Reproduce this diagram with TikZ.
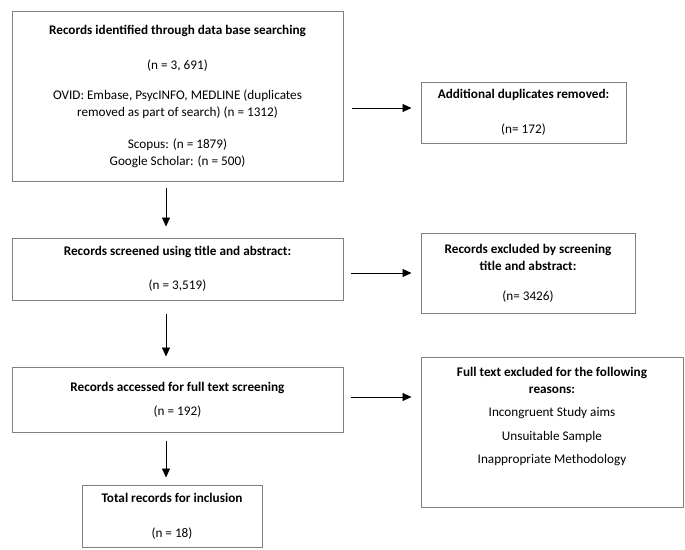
\documentclass[tikz,border=0pt]{standalone}
\usepackage{fontspec}
\setmainfont{Carlito}
\usetikzlibrary{arrows.meta}
\definecolor{boxgray}{gray}{0.5}
\begin{document}
\begin{tikzpicture}[x=1pt,y=-1pt,
  rec/.style={draw=boxgray,line width=1pt,shape=rectangle,align=center,inner sep=0pt,font=\fontsize{13.2}{17}\selectfont},
  arr/.style={-{Triangle[length=9pt,width=8pt]},line width=0.8pt}]
\useasboundingbox (0,0) rectangle (685,549);
\node[rec,minimum width=331pt,minimum height=170pt](b1) at (177.5,96){\textbf{Records identified through data base searching}\\[18pt](n = 3, 691)\\[13pt]OVID: Embase, PsycINFO, MEDLINE (duplicates\\removed as part of search) (n = 1312)\\[15pt]Scopus: (n = 1879)\\Google Scholar: (n = 500)};
\node[rec,minimum width=331pt,minimum height=62pt](b2) at (177.5,269){\textbf{Records screened using title and abstract:}\\[17pt](n = 3,519)};
\node[rec,minimum width=331pt,minimum height=65pt](b3) at (177.5,399.5){\textbf{Records accessed for full text screening}\\[7pt](n = 192)};
\node[rec,minimum width=180pt,minimum height=62pt](b4) at (172,516){\textbf{Total records for inclusion}\\[18pt](n = 18)};
\node[rec,minimum width=205pt,minimum height=61pt](ad) at (523.5,112.5){\textbf{Additional duplicates removed:}\\[18pt](n= 172)};
\node[rec,minimum width=214pt,minimum height=80pt](ex) at (528,273){\textbf{Records excluded by screening}\\\textbf{title and abstract:}\\[13pt](n= 3426)};
\node[rec,minimum width=262pt,minimum height=150pt](fx) at (552,432){\textbf{Full text excluded for the following}\\\textbf{reasons:}\\[6pt]Incongruent Study aims\\[7pt]Unsuitable Sample\\[6pt]Inappropriate Methodology\\[16pt]\mbox{}};
% down the left column
\draw[arr,shorten <=6pt,shorten >=11pt] ([xshift=-11.5pt]b1.south) -- ([xshift=-11.5pt]b2.north);
\draw[arr,shorten <=13pt,shorten >=10pt] ([xshift=-11.5pt]b2.south) -- ([xshift=-11.5pt]b3.north);
\draw[arr,shorten <=8pt,shorten >=7pt] ([xshift=-11.5pt]b3.south) -- ([xshift=-6pt]b4.north);
% across to the right
\draw[arr,shorten <=8pt,shorten >=9pt] ([yshift=4.5pt]ad.west -| b1.east) -- ([yshift=4.5pt]ad.west);
\draw[arr,shorten <=7pt,shorten >=9pt] (ex.west -| b2.east) -- (ex.west);
\draw[arr,shorten <=7pt,shorten >=9pt] ([yshift=2.5pt]b3.east) -- ([yshift=2.5pt]b3.east -| fx.west);
\end{tikzpicture}
\end{document}
